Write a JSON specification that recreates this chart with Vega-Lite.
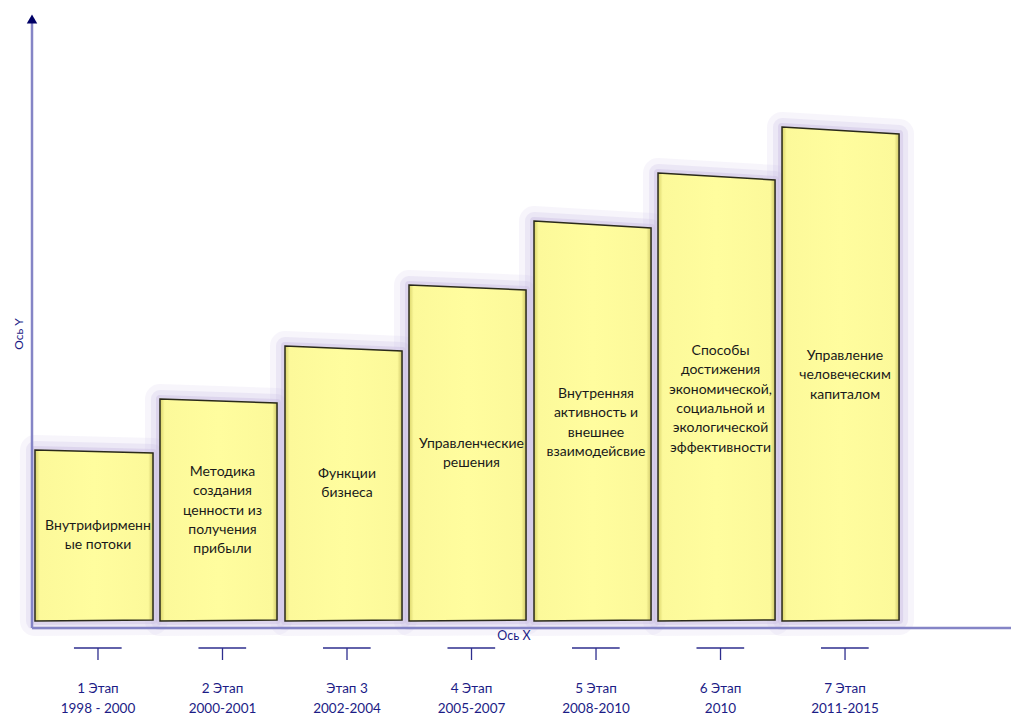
{
  "$schema": "https://vega.github.io/schema/vega-lite/v6.json",
  "width": 1011,
  "height": 715,
  "padding": 0,
  "autosize": {"type": "none"},
  "background": "white",
  "config": {"view": {"stroke": null}},
  "datasets": {
    "corners": [
      {"bar": 1, "u": 0.024, "top": 178, "bot": 7},
      {"bar": 1, "u": 0.972, "top": 175, "bot": 8},
      {"bar": 2, "u": 1.028, "top": 229, "bot": 7},
      {"bar": 2, "u": 1.968, "top": 225, "bot": 8},
      {"bar": 3, "u": 2.032, "top": 282, "bot": 7},
      {"bar": 3, "u": 2.972, "top": 277, "bot": 8},
      {"bar": 4, "u": 3.028, "top": 343, "bot": 7},
      {"bar": 4, "u": 3.968, "top": 338, "bot": 8},
      {"bar": 5, "u": 4.032, "top": 407, "bot": 7},
      {"bar": 5, "u": 4.972, "top": 400, "bot": 8},
      {"bar": 6, "u": 5.028, "top": 455, "bot": 7},
      {"bar": 6, "u": 5.968, "top": 448, "bot": 8},
      {"bar": 7, "u": 6.024, "top": 501, "bot": 7},
      {"bar": 7, "u": 6.964, "top": 494, "bot": 8}
    ],
    "bars": [
      {"bar": 1, "c": 0.53, "l": 0.337, "r": 0.72, "ty": 102, "label": "Внутрифирменн\nые потоки", "stage": "1 Этап\n1998 - 2000"},
      {"bar": 2, "c": 1.53, "l": 1.337, "r": 1.72, "ty": 156, "label": "Методика\nсоздания\nценности из\nполучения\nприбыли", "stage": "2 Этап\n2000-2001"},
      {"bar": 3, "c": 2.53, "l": 2.337, "r": 2.72, "ty": 154, "label": "Функции\nбизнеса", "stage": "Этап 3\n2002-2004"},
      {"bar": 4, "c": 3.53, "l": 3.337, "r": 3.72, "ty": 184, "label": "Управленческие\nрешения", "stage": "4 Этап\n2005-2007"},
      {"bar": 5, "c": 4.53, "l": 4.337, "r": 4.72, "ty": 234, "label": "Внутренняя\nактивность и\nвнешнее\nвзаимодейсвие", "stage": "5 Этап\n2008-2010"},
      {"bar": 6, "c": 5.53, "l": 5.337, "r": 5.72, "ty": 277, "label": "Способы\nдостижения\nэкономической,\nсоциальной и\nэкологической\nэффективности", "stage": "6 Этап\n2010"},
      {"bar": 7, "c": 6.53, "l": 6.337, "r": 6.72, "ty": 272, "label": "Управление\nчеловеческим\nкапиталом", "stage": "7 Этап\n2011-2015"}
    ]
  },
  "encoding": {
    "x": {"type": "quantitative", "scale": {"domain": [-0.257, 7.863], "nice": false, "zero": false}, "axis": null},
    "y": {"type": "quantitative", "scale": {"domain": [-87, 628], "nice": false, "zero": false}, "axis": null}
  },
  "layer": [
    {
      "data": {"name": "corners"},
      "mark": {"type": "area", "fill": "#DCD2EE", "fillOpacity": 0.25, "stroke": "#DCD2EE", "strokeOpacity": 0.22, "strokeWidth": 30, "strokeJoin": "round"},
      "encoding": {"x": {"field": "u"}, "y": {"field": "top"}, "y2": {"field": "bot"}, "detail": {"field": "bar"}}
    },
    {
      "data": {"name": "corners"},
      "mark": {"type": "area", "fill": "#D2C6E8", "fillOpacity": 0.3, "stroke": "#D2C6E8", "strokeOpacity": 0.3, "strokeWidth": 18, "strokeJoin": "round"},
      "encoding": {"x": {"field": "u"}, "y": {"field": "top"}, "y2": {"field": "bot"}, "detail": {"field": "bar"}}
    },
    {
      "data": {"name": "corners"},
      "mark": {"type": "area", "stroke": "#C8BBE2", "strokeOpacity": 0.4, "strokeWidth": 8, "strokeJoin": "round", "fill": "#C8BBE2"},
      "encoding": {"x": {"field": "u"}, "y": {"field": "top"}, "y2": {"field": "bot"}, "detail": {"field": "bar"}}
    },
    {
      "data": {"values": [{}]},
      "mark": {"type": "rule", "color": "#8585C6", "strokeWidth": 2.5},
      "encoding": {"x": {"datum": 0}, "x2": {"datum": 7.863}, "y": {"datum": 0}}
    },
    {
      "data": {"values": [{}]},
      "mark": {"type": "rule", "color": "#8585C6", "strokeWidth": 2.5},
      "encoding": {"x": {"datum": 0}, "y": {"datum": 0}, "y2": {"datum": 606}}
    },
    {
      "data": {"values": [{}]},
      "mark": {"type": "point", "shape": "triangle-up", "filled": true, "color": "#000066", "size": 110, "opacity": 1},
      "encoding": {"x": {"datum": 0}, "y": {"datum": 609}}
    },
    {
      "data": {"name": "corners"},
      "mark": {
        "type": "area",
        "stroke": "#2A2A1A",
        "strokeWidth": 1.5,
        "strokeJoin": "miter",
        "fill": {
          "gradient": "linear", "x1": 0, "y1": 0, "x2": 1, "y2": 0,
          "stops": [
            {"offset": 0, "color": "#D9D36A"},
            {"offset": 0.04, "color": "#FCF99A"},
            {"offset": 0.5, "color": "#FFFD9E"},
            {"offset": 0.96, "color": "#FCF99A"},
            {"offset": 1, "color": "#CFC86A"}
          ]
        }
      },
      "encoding": {"x": {"field": "u"}, "y": {"field": "top"}, "y2": {"field": "bot"}, "detail": {"field": "bar"}}
    },
    {
      "data": {"name": "bars"},
      "mark": {"type": "text", "font": "Lato", "fontSize": 14, "lineHeight": 19.3, "lineBreak": "\n", "align": "center", "baseline": "middle", "color": "#1A1A1A"},
      "encoding": {"x": {"field": "c"}, "y": {"field": "ty"}, "text": {"field": "label"}}
    },
    {
      "data": {"name": "bars"},
      "mark": {"type": "rule", "color": "#2E2E8E", "strokeWidth": 1.3},
      "encoding": {"x": {"field": "l"}, "x2": {"field": "r"}, "y": {"datum": -20}}
    },
    {
      "data": {"name": "bars"},
      "mark": {"type": "rule", "color": "#2E2E8E", "strokeWidth": 1.3},
      "encoding": {"x": {"field": "c"}, "y": {"datum": -20}, "y2": {"datum": -32}}
    },
    {
      "data": {"name": "bars"},
      "mark": {"type": "text", "font": "Lato", "fontSize": 13.5, "lineHeight": 20, "lineBreak": "\n", "align": "center", "baseline": "middle", "color": "#1C1C86"},
      "encoding": {"x": {"field": "c"}, "y": {"datum": -61}, "text": {"field": "stage"}}
    },
    {
      "data": {"values": [{"t": "Ось Y"}]},
      "mark": {"type": "text", "font": "Lato", "fontSize": 12, "angle": 270, "align": "center", "baseline": "middle", "color": "#1C1C86"},
      "encoding": {"x": {"datum": -0.104}, "y": {"datum": 294}, "text": {"field": "t"}}
    },
    {
      "data": {"values": [{"t": "Ось X"}]},
      "mark": {"type": "text", "font": "Lato", "fontSize": 12.5, "align": "center", "baseline": "middle", "color": "#1C1C86"},
      "encoding": {"x": {"datum": 3.871}, "y": {"datum": -8}, "text": {"field": "t"}}
    }
  ]
}
